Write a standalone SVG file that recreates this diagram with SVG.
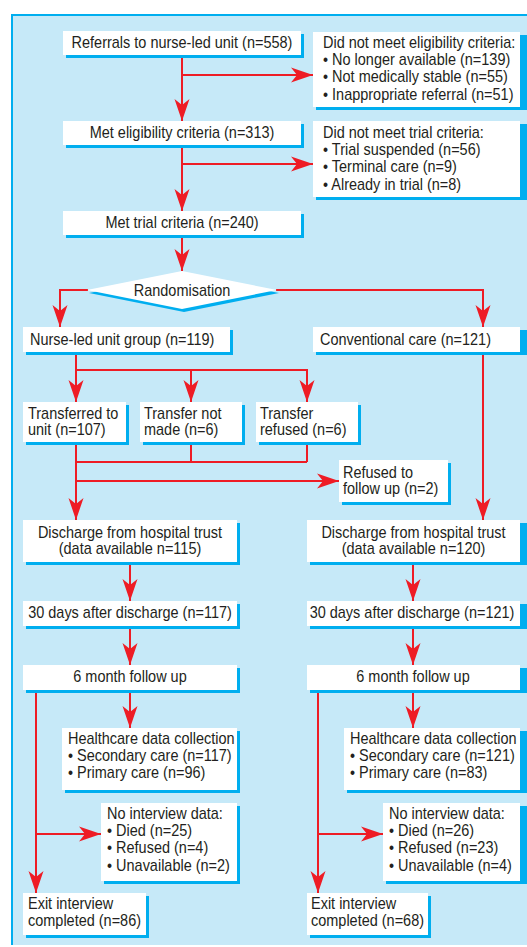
<svg xmlns="http://www.w3.org/2000/svg" width="527" height="947" viewBox="0 0 527 947">
<defs>
<style>
.bg{fill:#c6e9f8}
.bd{stroke:#00aeef;stroke-width:2;fill:none}
.sh{fill:#00aeef}
.bx{fill:#ffffff}
.t{font-family:"Liberation Sans",Arial,sans-serif;font-size:16px;fill:#231f20}
.c{text-anchor:middle}
.ln{stroke:#ee1c25;stroke-width:2;fill:none}
.ar{marker-end:url(#ah)}
</style>
<marker id="ah" markerUnits="userSpaceOnUse" viewBox="-22 -8 23 16" refX="0" refY="0" markerWidth="23" markerHeight="16" orient="auto">
<path d="M0,0 L-22,-7.5 L-16,0 L-22,7.5 Z" fill="#ee1c25"/>
</marker>
</defs>
<rect class="bg" x="11" y="14" width="520" height="931"/>
<path class="bd" d="M12,945 V15 H527"/>

<g id="connectors">
<path class="ln ar" d="M182,55 V121"/>
<path class="ln ar" d="M182,75 H313"/>
<path class="ln ar" d="M182,145 V211"/>
<path class="ln ar" d="M182,164 H313"/>
<path class="ln ar" d="M182,235 V271"/>
<path class="ln ar" d="M88,290 H60 V327"/>
<path class="ln ar" d="M276,290 H483 V327"/>
<path class="ln ar" d="M76,352 V402"/>
<path class="ln ar" d="M76,370 H307 V402"/>
<path class="ln ar" d="M191,370 V402"/>
<path class="ln ar" d="M76,442 V520"/>
<path class="ln" d="M191,442 V462 M307,442 V462 M76,462 H307"/>
<path class="ln ar" d="M76,481 H339"/>
<path class="ln ar" d="M483,352 V520"/>
<path class="ln ar" d="M130,562 V601"/>
<path class="ln ar" d="M413,562 V601"/>
<path class="ln ar" d="M130,626 V665"/>
<path class="ln ar" d="M413,626 V665"/>
<path class="ln ar" d="M130,690 V728"/>
<path class="ln ar" d="M413,690 V728"/>
<path class="ln ar" d="M36,690 V893"/>
<path class="ln ar" d="M36,834 H101"/>
<path class="ln ar" d="M318,690 V893"/>
<path class="ln ar" d="M318,834 H383"/>
</g>

<g id="referrals">
<rect class="sh" x="66" y="34" width="238" height="24"/>
<rect class="bx" x="63" y="31" width="238" height="24"/>
<text class="t c" transform="translate(182,47.5) scale(0.905,1)">Referrals to nurse-led unit (n=558)</text>
</g>
<g id="not-eligible">
<rect class="sh" x="316" y="35" width="211" height="75"/>
<rect class="bx" x="313" y="32" width="207" height="75"/>
<text class="t" transform="translate(323,47.5) scale(0.905,1)"><tspan x="0" y="0">Did not meet eligibility criteria:</tspan><tspan x="0" y="17.4">• No longer available (n=139)</tspan><tspan x="0" y="34.8">• Not medically stable (n=55)</tspan><tspan x="0" y="52.2">• Inappropriate referral (n=51)</tspan></text>
</g>
<g id="eligible">
<rect class="sh" x="66" y="124" width="238" height="24"/>
<rect class="bx" x="63" y="121" width="238" height="24"/>
<text class="t c" transform="translate(182,137.5) scale(0.905,1)">Met eligibility criteria (n=313)</text>
</g>
<g id="not-trial">
<rect class="sh" x="316" y="124" width="211" height="76"/>
<rect class="bx" x="313" y="121" width="207" height="76"/>
<text class="t" transform="translate(323,137.5) scale(0.905,1)"><tspan x="0" y="0">Did not meet trial criteria:</tspan><tspan x="0" y="17.4">• Trial suspended (n=56)</tspan><tspan x="0" y="34.8">• Terminal care (n=9)</tspan><tspan x="0" y="52.2">• Already in trial (n=8)</tspan></text>
</g>
<g id="trial">
<rect class="sh" x="66" y="214" width="238" height="24"/>
<rect class="bx" x="63" y="211" width="238" height="24"/>
<text class="t c" transform="translate(182,227.5) scale(0.905,1)">Met trial criteria (n=240)</text>
</g>
<g id="randomisation">
<polygon class="sh" points="89,293 184,274 279,293 184,312"/>
<polygon class="bx" points="87,290 182,271 277,290 182,309"/>
<text class="t c" transform="translate(182,295.5) scale(0.905,1)">Randomisation</text>
</g>
<g id="nurse-group">
<rect class="sh" x="26" y="330" width="207" height="25"/>
<rect class="bx" x="23" y="327" width="207" height="25"/>
<text class="t" transform="translate(30,344.5) scale(0.905,1)">Nurse-led unit group (n=119)</text>
</g>
<g id="conventional">
<rect class="sh" x="316" y="330" width="211" height="25"/>
<rect class="bx" x="313" y="327" width="207" height="25"/>
<text class="t" transform="translate(320,344.5) scale(0.905,1)">Conventional care (n=121)</text>
</g>
<g id="transferred">
<rect class="sh" x="26" y="405" width="103" height="40"/>
<rect class="bx" x="23" y="402" width="103" height="40"/>
<text class="t" transform="translate(28,418.5) scale(0.905,1)"><tspan x="0" y="0">Transferred to</tspan><tspan x="0" y="17">unit (n=107)</tspan></text>
</g>
<g id="not-made">
<rect class="sh" x="143" y="405" width="102" height="40"/>
<rect class="bx" x="140" y="402" width="102" height="40"/>
<text class="t" transform="translate(144,418.5) scale(0.905,1)"><tspan x="0" y="0">Transfer not</tspan><tspan x="0" y="17">made (n=6)</tspan></text>
</g>
<g id="transfer-refused">
<rect class="sh" x="259" y="405" width="102" height="40"/>
<rect class="bx" x="256" y="402" width="102" height="40"/>
<text class="t" transform="translate(260,418.5) scale(0.905,1)"><tspan x="0" y="0">Transfer</tspan><tspan x="0" y="17">refused (n=6)</tspan></text>
</g>
<g id="refused-follow">
<rect class="sh" x="342" y="463" width="109" height="42"/>
<rect class="bx" x="339" y="460" width="109" height="42"/>
<text class="t" transform="translate(343,477.5) scale(0.905,1)"><tspan x="0" y="0">Refused to</tspan><tspan x="0" y="17">follow up (n=2)</tspan></text>
</g>
<g id="discharge-left">
<rect class="sh" x="26" y="523" width="214" height="42"/>
<rect class="bx" x="23" y="520" width="214" height="42"/>
<text class="t c" transform="translate(130,537.5) scale(0.905,1)"><tspan x="0" y="0">Discharge from hospital trust</tspan><tspan x="0" y="17">(data available n=115)</tspan></text>
</g>
<g id="discharge-right">
<rect class="sh" x="310" y="523" width="217" height="42"/>
<rect class="bx" x="307" y="520" width="213" height="42"/>
<text class="t c" transform="translate(413.5,537.5) scale(0.905,1)"><tspan x="0" y="0">Discharge from hospital trust</tspan><tspan x="0" y="17">(data available n=120)</tspan></text>
</g>
<g id="days30-left">
<rect class="sh" x="26" y="604" width="214" height="25"/>
<rect class="bx" x="23" y="601" width="214" height="25"/>
<text class="t c" transform="translate(130,617.5) scale(0.905,1)">30 days after discharge (n=117)</text>
</g>
<g id="days30-right">
<rect class="sh" x="310" y="604" width="217" height="25"/>
<rect class="bx" x="307" y="601" width="213" height="25"/>
<text class="t c" transform="translate(412,617.5) scale(0.905,1)">30 days after discharge (n=121)</text>
</g>
<g id="month6-left">
<rect class="sh" x="26" y="668" width="214" height="25"/>
<rect class="bx" x="23" y="665" width="214" height="25"/>
<text class="t c" transform="translate(130,681.5) scale(0.905,1)">6 month follow up</text>
</g>
<g id="month6-right">
<rect class="sh" x="310" y="668" width="217" height="25"/>
<rect class="bx" x="307" y="665" width="213" height="25"/>
<text class="t c" transform="translate(413,681.5) scale(0.905,1)">6 month follow up</text>
</g>
<g id="health-left">
<rect class="sh" x="65" y="731" width="175" height="62"/>
<rect class="bx" x="62" y="728" width="175" height="62"/>
<text class="t" transform="translate(68,743.5) scale(0.905,1)"><tspan x="0" y="0">Healthcare data collection</tspan><tspan x="0" y="17.5">• Secondary care (n=117)</tspan><tspan x="0" y="35">• Primary care (n=96)</tspan></text>
</g>
<g id="health-right">
<rect class="sh" x="347" y="731" width="180" height="62"/>
<rect class="bx" x="344" y="728" width="176" height="62"/>
<text class="t" transform="translate(350,743.5) scale(0.905,1)"><tspan x="0" y="0">Healthcare data collection</tspan><tspan x="0" y="17.5">• Secondary care (n=121)</tspan><tspan x="0" y="35">• Primary care (n=83)</tspan></text>
</g>
<g id="nointerview-left">
<rect class="sh" x="104" y="806" width="136" height="78"/>
<rect class="bx" x="101" y="803" width="136" height="78"/>
<text class="t" transform="translate(107,818.5) scale(0.905,1)"><tspan x="0" y="0">No interview data:</tspan><tspan x="0" y="17.5">• Died (n=25)</tspan><tspan x="0" y="35">• Refused (n=4)</tspan><tspan x="0" y="52.5">• Unavailable (n=2)</tspan></text>
</g>
<g id="nointerview-right">
<rect class="sh" x="386" y="806" width="141" height="78"/>
<rect class="bx" x="383" y="803" width="137" height="78"/>
<text class="t" transform="translate(389,818.5) scale(0.905,1)"><tspan x="0" y="0">No interview data:</tspan><tspan x="0" y="17.5">• Died (n=26)</tspan><tspan x="0" y="35">• Refused (n=23)</tspan><tspan x="0" y="52.5">• Unavailable (n=4)</tspan></text>
</g>
<g id="exit-left">
<rect class="sh" x="26" y="896" width="123" height="42"/>
<rect class="bx" x="23" y="893" width="123" height="42"/>
<text class="t" transform="translate(28,908.5) scale(0.905,1)"><tspan x="0" y="0">Exit interview</tspan><tspan x="0" y="17.5">completed (n=86)</tspan></text>
</g>
<g id="exit-right">
<rect class="sh" x="310" y="896" width="121" height="42"/>
<rect class="bx" x="307" y="893" width="121" height="42"/>
<text class="t" transform="translate(311,908.5) scale(0.905,1)"><tspan x="0" y="0">Exit interview</tspan><tspan x="0" y="17.5">completed (n=68)</tspan></text>
</g>
</svg>
